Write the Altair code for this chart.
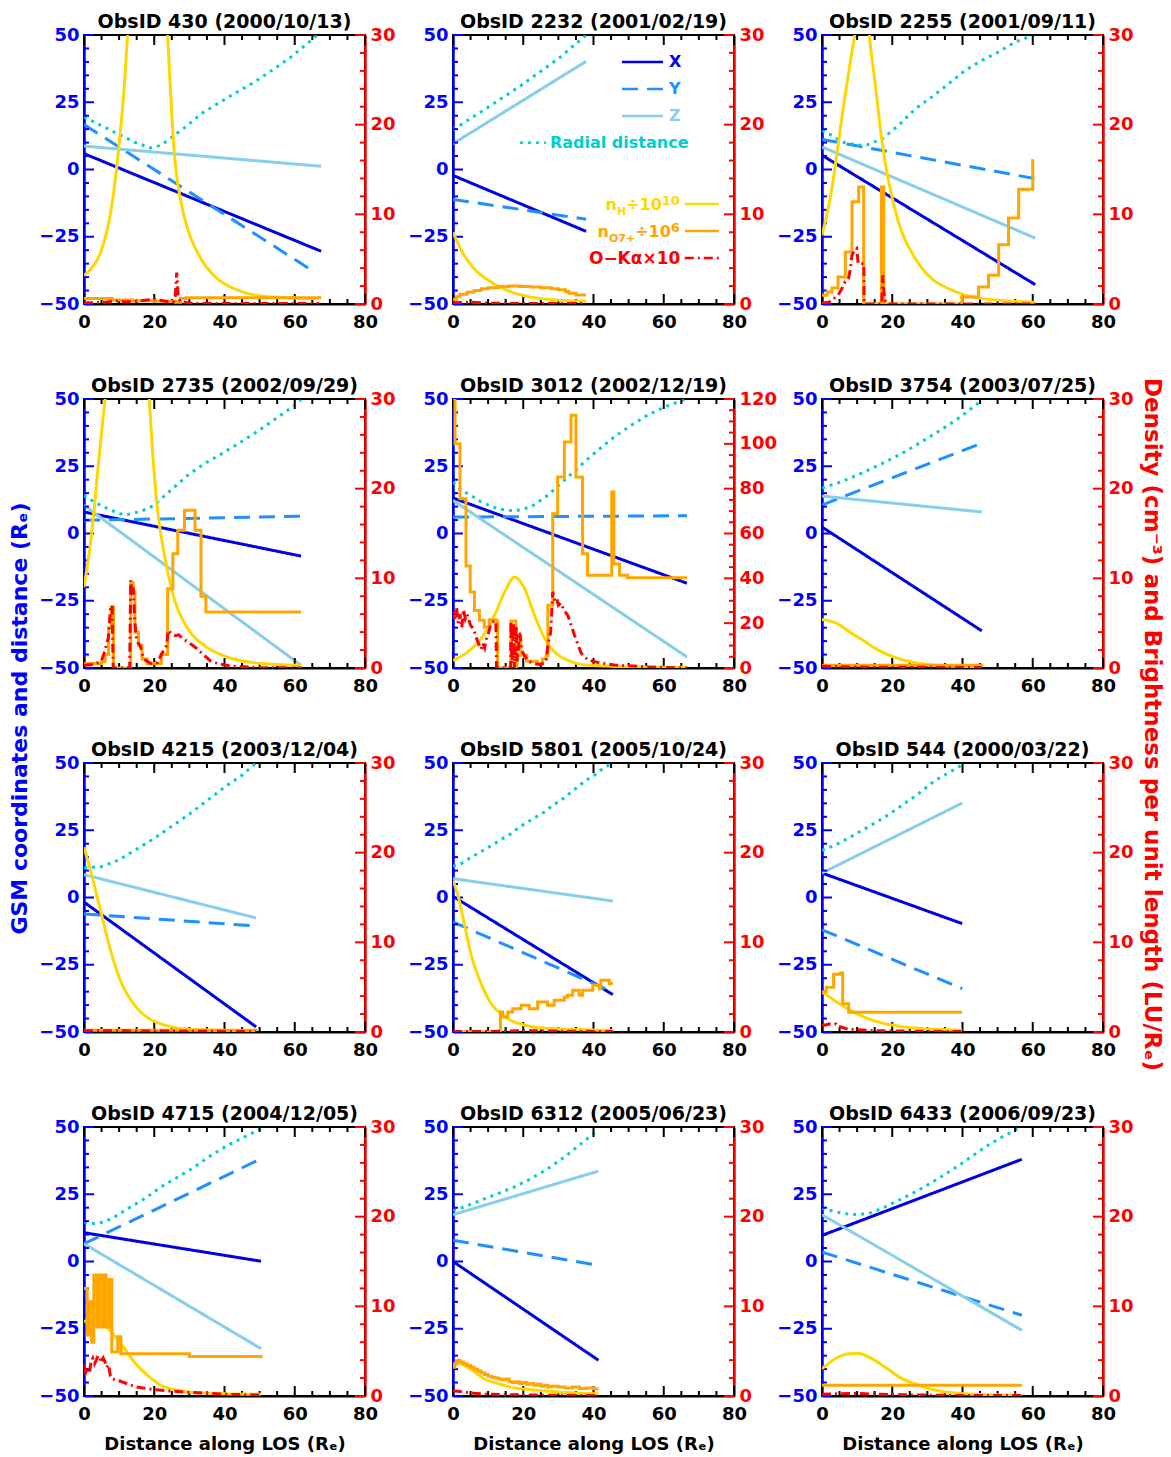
import altair as alt
import pandas as pd

FONT = "DejaVu Sans"
W, H = 281, 269

# ---------------- tick values / labels ----------------
X_MAJOR = [0, 20, 40, 60, 80]
X_MINOR = [5, 10, 15, 25, 30, 35, 45, 50, 55, 65, 70, 75]
L_MAJOR = [-50, -25, 0, 25, 50]
L_MINOR = [-45, -40, -35, -30, -20, -15, -10, -5, 5, 10, 15, 20, 30, 35, 40, 45]
R_MAJOR_30 = [0, 10, 20, 30]
R_MINOR_30 = [2, 4, 6, 8, 12, 14, 16, 18, 22, 24, 26, 28]
R_MAJOR_120 = [0, 20, 40, 60, 80, 100, 120]
R_MINOR_120 = [5, 10, 15, 25, 30, 35, 45, 50, 55, 65, 70, 75, 85, 90, 95, 105, 110, 115]

X_TITLE = "Distance along LOS (Rₑ)"
LEFT_TITLE = "GSM coordinates and distance (Rₑ)"
RIGHT_TITLE = "Density (cm⁻³) and Brightness per unit length (LU/Rₑ)"

# ---------------- panel data (distance, value) ----------------
P430 = {
    "title": "ObsID 430 (2000/10/13)", "rmax": 30,
    "X": [(0, 5.9), (67.5, -30.4)],
    "Y": [(0, 16.7), (65.6, -38.1)],
    "Z": [(0, 8.7), (67.5, 1.2)],
    "R": [(0, 19.5), (4.8, 16.4), (9.6, 13.3), (14.3, 10.2), (19, 8), (21.9, 9), (25.7, 12.7), (29.5, 16.4),
          (33.3, 20.7), (38.1, 24.5), (42.8, 28.2), (48.5, 32.5), (54.2, 37.5), (58.9, 41.8), (66.5, 50)],
    "H": [(0, 3.2), (2, 3.9), (4.8, 5.8), (6.7, 8.4), (8.6, 12.9), (10, 17.8), (11.5, 24.4), (12.4, 30),
          (14, 42), (18, 55), (22, 42), (23.8, 30), (24.8, 22.5), (25.7, 16.9), (27.6, 11.4), (29.5, 8.4),
          (33.3, 5.05), (38, 2.8), (42.8, 1.7), (52.3, 0.8), (66.5, 0.6)],
    "O": [(0, 0.6), (8, 0.45), (14, 0.35), (20, 0.3), (26, 0.2), (27.5, 0.6), (29, 0.7), (67.5, 0.7)],
    "K": [(0, 0.1), (3, 0.15), (6, 0.2), (9, 0.35), (12, 0.25), (15, 0.3), (18, 0.45), (20, 0.55), (22, 0.4),
          (24, 0.25), (25.5, 0.3), (26, 0.9), (26.4, 3.5), (26.8, 1.0), (27.3, 0.3), (30, 0.1), (40, 0.05),
          (67, 0.05)],
}
P2232 = {
    "title": "ObsID 2232 (2001/02/19)", "rmax": 30,
    "X": [(0, -2.2), (37.9, -23)],
    "Y": [(0, -11.1), (37.9, -18.5)],
    "Z": [(0, 9.6), (37.9, 40.2)],
    "R": [(0, 14.8), (9.4, 22.6), (19.4, 31.3), (30, 41.2), (37.9, 50)],
    "H": [(0, 8.0), (3.2, 5.4), (6.1, 3.9), (10.8, 2.45), (15.6, 1.5), (25, 0.6), (37.9, 0.3)],
    "O": [(0, 0.5), (1, 0.8), (2, 1.1), (4, 1.3), (6, 1.5), (8, 1.7), (10, 1.8), (13, 1.95), (16, 2.0),
          (19, 1.95), (22, 1.9), (25, 1.8), (28, 1.7), (30, 1.6), (32, 1.4), (33, 1.2), (35, 1.0), (37.9, 1.0)],
    "K": [(0, 0.15), (5, 0.2), (10, 0.1), (20, 0.05), (37.9, 0.05)],
}
P2255 = {
    "title": "ObsID 2255 (2001/09/11)", "rmax": 30,
    "X": [(0, 5.3), (60.7, -42.8)],
    "Y": [(0, 11.2), (60.7, -3.4)],
    "Z": [(0, 8.4), (60.7, -25.5)],
    "R": [(0, 14.6), (2.8, 12.7), (5.7, 10.2), (10.4, 9.0), (13, 9.2), (17.1, 11.4), (21.8, 16.4), (26.6, 22.6),
          (31.3, 27), (36.1, 31.9), (40.8, 36.9), (45.6, 40.6), (50.3, 43.7), (55, 47.4), (60.3, 50)],
    "H": [(0, 7.66), (2.85, 12.9), (4.7, 18.1), (6.6, 23.3), (8.5, 28.1), (9.3, 30), (10.5, 36), (11.5, 37),
          (12.5, 35), (13.5, 30), (15.2, 24.4), (17.1, 18.1), (19, 13.6), (21.8, 9.1), (26.6, 5.05), (31.3, 2.8),
          (36.1, 1.7), (45.6, 0.6), (60.7, 0.2)],
    "O": [(0, 0.97), (1.42, 1.34), (2.85, 1.78), (4.56, 3.0), (6.64, 5.8), (8.54, 11.4), (10.44, 13.05),
          (11.86, 0), (16.9, 13.05), (17.6, 0), (39.8, 0.78), (44.6, 1.9), (47.4, 3.2), (50.3, 6.6), (53.1, 9.6),
          (56, 12.8), (60, 16.0), (60.3, 16.0)],
    "K": [(0, 0.1), (2, 0.2), (3, 0.5), (4.6, 1.0), (5.5, 1.6), (6.6, 2.5), (7.5, 2.8), (8.1, 3.9), (8.5, 5.4),
          (9.2, 6.0), (9.9, 6.2), (10.3, 4.5), (11.9, 4.5), (12.0, 0), (17.0, 0), (17.3, 3.2), (17.8, 0.5),
          (18.5, 0), (60.7, 0)],
}
P2735 = {
    "title": "ObsID 2735 (2002/09/29)", "rmax": 30,
    "X": [(0, 8.0), (61.8, -8.4)],
    "Y": [(0, 4.9), (61.8, 6.4)],
    "Z": [(0, 10.5), (61.8, -49.0)],
    "R": [(0, 14.2), (2.9, 11.7), (7.7, 8.6), (11.5, 6.8), (16.2, 8.2), (20, 10.5), (24.7, 16.1), (29.5, 21.6),
          (34.3, 26.0), (39, 29.5), (43.8, 33.3), (48.5, 37.2), (53.3, 41.5), (58, 45.8), (61.8, 49.5)],
    "H": [(0, 9.0), (2, 14.4), (3.9, 21.9), (5.3, 27.4), (6, 29.9), (8, 40), (12, 48), (16, 40), (18.6, 29.9),
          (19.6, 23.7), (21, 17.4), (22.9, 12.6), (25.7, 7.7), (29.5, 4.4), (34.3, 2.5), (40.9, 1.2),
          (50.4, 0.5), (61.8, 0.3)],
    "O": [(0, 0.5), (5, 0.7), (6, 1.5), (7, 4.5), (7.8, 6.8), (8.4, 0), (13.2, 0), (13.3, 9.5), (14, 8.5),
          (14.5, 4), (15.5, 2.5), (16.5, 1), (18, 0.5), (21, 0.5), (22, 1.5), (23.8, 8.85), (25.3, 12.75),
          (26.7, 15.35), (28.6, 17.6), (31.6, 15.35), (33.3, 8.0), (34.7, 6.25), (61.8, 6.25)],
    "K": [(0, 0.3), (3, 0.4), (5, 0.8), (6, 2.0), (7, 3.5), (7.5, 6.5), (8, 7.0), (8.3, 0), (13, 0), (13.3, 9.8),
          (13.7, 8.0), (14, 9.0), (14.5, 5), (15, 3), (16, 2.5), (17, 1), (19, 0.5), (21, 0.6), (22, 1.5),
          (23.5, 2.5), (24, 4.2), (25, 3.8), (26, 3.6), (27, 3.7), (28, 3.3), (30, 2.8), (32, 2.2), (34, 1.5),
          (36, 0.8), (38, 0.5), (42, 0.2), (50, 0.05), (62, 0)],
}
P3012 = {
    "title": "ObsID 3012 (2002/12/19)", "rmax": 120,
    "X": [(0, 13.2), (66.6, -18.5)],
    "Y": [(0, 6.1), (66.6, 6.6)],
    "Z": [(0, 12.3), (66.6, -45.9)],
    "R": [(0, 19.1), (2.3, 16.1), (5.1, 14.2), (8, 11.7), (12.7, 9.2), (17.5, 8.3), (22.2, 9.9), (27, 14.2),
          (31.7, 19.8), (36.4, 25.4), (41.2, 30.9), (45.9, 35.9), (50.7, 40.2), (55.4, 44), (60.2, 47),
          (66.3, 50)],
    "H": [(0, 3.4), (4.2, 7.1), (8, 13.1), (11.8, 23.5), (14.7, 33.9), (17.5, 40.6), (20.4, 35.4), (23.2, 23.5),
          (26.1, 13.1), (28.9, 7.1), (32.7, 3.4), (38.4, 1.2), (45.9, 0.7), (66.6, 0.3)],
    "O": [(0, 120), (0.57, 100), (2.0, 75.5), (3.7, 45.5), (4.9, 33.9), (6.1, 25.7), (7.5, 21.3), (8.9, 18.3),
          (10.3, 21.5), (12.2, 21.0), (12.7, 0), (16.5, 21), (17.9, 0), (18.2, 14), (19.3, 5.7), (21, 3),
          (24, 2), (25.5, 4), (26.5, 5.5), (27.0, 28), (28.4, 68.8), (29.8, 85.2), (31.7, 100.8), (33.6, 112.7),
          (35.0, 85.2), (36.9, 51.0), (38.3, 41.4), (45.0, 41.4), (45.2, 78.5), (45.8, 46.4), (47.4, 41.4),
          (49.7, 40.3), (66.6, 40.3)],
    "K": [(0, 25), (0.5, 22), (1, 27), (1.5, 20), (2, 24), (2.5, 18), (3, 26), (3.5, 22), (4, 24), (5, 19),
          (6, 17), (6.5, 14), (7, 12), (7.5, 10), (8, 8.4), (8.5, 11), (9, 9), (9.5, 13), (10, 15), (10.5, 18),
          (11, 20.5), (12.2, 21), (12.4, 0), (16.4, 0), (16.5, 21), (16.8, 2), (17.2, 20), (17.5, 0), (18, 19),
          (18.3, 3), (19, 16), (19.5, 8), (20.5, 5), (21.5, 3), (23, 2), (25, 1.5), (26.5, 3), (27, 10),
          (27.8, 16), (28.4, 34), (29, 30), (29.5, 31), (30, 28), (30.7, 29), (31.5, 26), (32.7, 23.4),
          (34.6, 14.6), (36.5, 6.6), (38.4, 3.6), (41.2, 2.5), (45.9, 1.3), (55, 0.5), (60, 0.3), (66.6, 0)],
}
P3754 = {
    "title": "ObsID 3754 (2003/07/25)", "rmax": 30,
    "X": [(0, 2.4), (45.5, -36.2)],
    "Y": [(0, 10.6), (45.5, 33.6)],
    "Z": [(0, 13.9), (45.5, 8.0)],
    "R": [(0, 16.9), (5.7, 19.3), (11.4, 22.5), (17.1, 26.0), (22.8, 29.8), (28.5, 34.2), (34.2, 38.8),
          (39.9, 43.8), (45.5, 49.5)],
    "H": [(0, 5.4), (4, 5.0), (8, 4.0), (12, 3.0), (16, 2.0), (20, 1.3), (25, 0.7), (30, 0.4), (45.5, 0.1)],
    "O": [(0, 0.3), (45.5, 0.2)],
    "K": [(0, 0.2), (10, 0.1), (45.5, 0.05)],
}
P4215 = {
    "title": "ObsID 4215 (2003/12/04)", "rmax": 30,
    "X": [(0, -1.7), (49, -48.1)],
    "Y": [(0, -6.1), (49, -10.6)],
    "Z": [(0, 8.5), (49, -7.6)],
    "R": [(0, 11), (5, 11.5), (10, 14), (15, 18), (20, 22), (25, 26.5), (30, 31), (35, 36), (40, 41),
          (45, 45.5), (49, 50)],
    "H": [(0, 20.6), (2, 17.8), (4.8, 13.4), (7.7, 8.9), (10.5, 5.6), (14.8, 2.8), (20.5, 1.1), (30, 0.3),
          (49, 0.1)],
    "O": [(0, 0.2), (49, 0.15)],
    "K": [(0, 0.15), (49, 0.05)],
}
P5801 = {
    "title": "ObsID 5801 (2005/10/24)", "rmax": 30,
    "X": [(0, 0.4), (45.5, -36.1)],
    "Y": [(0, -9.1), (45.5, -35.1)],
    "Z": [(0, 7), (45.5, -1.3)],
    "R": [(0, 11.6), (2.3, 12.6), (4.5, 14.4), (6.9, 16.3), (9.4, 18.1), (11.8, 20.0), (14.1, 21.9), (16.5, 23.7),
          (18.9, 26.2), (21.3, 28.1), (23.6, 29.9), (26.0, 31.8), (28.4, 34.3), (30.7, 36.1), (33.1, 38.6),
          (35.5, 41.1), (37.9, 43.6), (40.2, 45.4), (42.6, 47.9), (45, 49.7)],
    "H": [(0, 16.9), (1.3, 15.4), (3.2, 12.1), (5.1, 8.7), (8, 5.4), (10.8, 3.2), (14.7, 1.7), (20.5, 0.75),
          (27, 0.4), (45.5, 0.2)],
    "O": [(0, 0), (13.5, 2.23), (14.1, 1.67), (15.6, 2.23), (17.0, 2.6), (19.4, 2.97), (21.7, 2.6),
          (24.1, 3.35), (26.9, 2.97), (28.8, 3.53), (31.7, 3.9), (32.6, 4.1), (34.1, 4.65), (35.9, 4.1),
          (36.9, 4.65), (39.8, 5.2), (41.7, 4.83), (42.1, 5.76), (44.5, 5.4), (45.5, 5.4)],
    "K": [(0, 0.05), (10, 0.05), (14, 0.1), (20, 0.15), (30, 0.1), (45.5, 0.05)],
}
P544 = {
    "title": "ObsID 544 (2000/03/22)", "rmax": 30,
    "X": [(0, 9.1), (39.9, -9.7)],
    "Y": [(0, -12.0), (39.9, -33.9)],
    "Z": [(0, 9.1), (39.9, 35.1)],
    "R": [(0, 17.5), (3.6, 19.4), (8.1, 22.5), (13.1, 26.2), (17.9, 29.9), (22.8, 34.3), (27.5, 38.6),
          (32.3, 43.6), (38.9, 48.5), (39.9, 49.5)],
    "H": [(0, 4.46), (3.6, 3.5), (8.1, 2.4), (13.1, 1.5), (17.9, 0.93), (22.8, 0.6), (32.3, 0.3), (39.9, 0.2)],
    "O": [(0, 4.46), (1.2, 5.0), (3.3, 6.43), (5.2, 6.58), (5.9, 3.16), (7.6, 2.2), (39.9, 2.2)],
    "K": [(0, 0.85), (1, 0.75), (2, 0.9), (3, 0.8), (4, 0.9), (4.5, 0.6), (5.5, 0.55), (7, 0.35), (10, 0.25),
          (15, 0.15), (25, 0.1), (39.9, 0.05)],
}
P4715 = {
    "title": "ObsID 4715 (2004/12/05)", "rmax": 30,
    "X": [(0, 10.7), (50.4, 0.1)],
    "Y": [(0, 6.6), (50.4, 38.2)],
    "Z": [(0, 6.6), (50.4, -32.4)],
    "R": [(0, 14.7), (2.9, 14.1), (5.8, 14.7), (8.6, 16.5), (12.4, 19.6), (17.2, 23.3), (21.9, 27.7),
          (26.7, 31.4), (31.4, 35.1), (36.2, 39.5), (40.9, 43.2), (45.7, 46.3), (50.4, 49.4)],
    "H": [(0, 8.25), (1.9, 8.6), (3, 8.7), (5.8, 7.9), (8.6, 6.8), (11.5, 5.3), (14.3, 3.8), (18.1, 2.3),
          (21.9, 1.2), (26.7, 0.64), (31.4, 0.38), (40, 0.25), (50.4, 0.2)],
    "O": [(0, 12.0), (0.9, 6.8), (1.5, 10.5), (2.2, 6.0), (2.8, 13.5), (3.7, 7.7), (4.4, 13.5), (5.3, 7.7),
          (5.8, 13.5), (6.3, 7.7), (7.2, 13.0), (7.9, 4.9), (9.6, 6.6), (10.5, 4.7), (30, 4.4), (50.4, 4.2)],
    "K": [(0, 3.5), (0.5, 2.6), (1, 3.0), (1.5, 2.5), (2, 3.8), (2.5, 4.2), (3, 3.6), (3.5, 4.0), (4, 4.5),
          (4.5, 4.3), (5, 3.7), (5.5, 4.2), (6, 3.8), (6.5, 3.2), (7, 3.5), (7.5, 2.2), (8, 1.9), (10, 1.7),
          (12, 1.4), (15, 1.0), (20, 0.7), (30, 0.4), (40, 0.2), (50, 0.1)],
}
P6312 = {
    "title": "ObsID 6312 (2005/06/23)", "rmax": 30,
    "X": [(0, 0), (41.4, -36.7)],
    "Y": [(0, 7.9), (41.4, -1.4)],
    "Z": [(0, 17.4), (41.4, 33.6)],
    "R": [(0, 19), (3.2, 20.3), (8, 22.8), (12.7, 25.2), (17.5, 27.7), (22.2, 30.8), (27, 34.5), (31.7, 38.8),
          (36.5, 43.8), (41.2, 48.8)],
    "H": [(0, 3.4), (1.3, 3.7), (3.2, 3.4), (6.1, 2.7), (8.9, 1.9), (12.7, 1.4), (17.5, 0.9), (22.2, 0.7),
          (31.7, 0.4), (41.4, 0.25)],
    "O": [(0, 3.2), (0.5, 3.6), (1, 3.9), (1.5, 4.0), (2, 3.8), (3, 3.6), (4, 3.4), (5, 3.2), (6, 3.0),
          (7, 2.8), (8, 2.6), (9, 2.4), (10, 2.2), (11, 2.1), (12, 2.0), (13, 1.9), (14, 1.8), (15, 1.9),
          (16, 1.6), (17, 1.5), (18, 1.6), (19, 1.4), (20, 1.5), (21, 1.3), (22, 1.4), (23, 1.2), (24, 1.3),
          (25, 1.1), (26, 1.2), (27, 1.0), (28, 1.1), (30, 1.0), (32, 0.9), (34, 1.0), (36, 0.85), (38, 0.9),
          (40, 0.8), (41.4, 0.8)],
    "K": [(0, 0.6), (2, 0.5), (4, 0.4), (6, 0.3), (10, 0.2), (15, 0.15), (25, 0.1), (41.4, 0.05)],
}
P6433 = {
    "title": "ObsID 6433 (2006/09/23)", "rmax": 30,
    "X": [(0, 9.7), (56.9, 38.0)],
    "Y": [(0, 3.5), (56.9, -20)],
    "Z": [(0, 17.4), (56.9, -25.6)],
    "R": [(0, 19.9), (3.8, 18.4), (8.5, 17.4), (13.3, 17.8), (18, 20.3), (22.8, 23.4), (27.5, 26.5),
          (32.3, 30.2), (37, 34.0), (41.8, 38.3), (46.5, 42.6), (51.3, 46.3), (56.5, 50)],
    "H": [(0, 3.05), (3.8, 4.16), (7.6, 4.7), (10.4, 4.75), (14.2, 4.16), (18, 3.2), (22.8, 1.93), (27.5, 1.19),
          (32.3, 0.64), (37, 0.37), (41.8, 0.22), (56.9, 0.08)],
    "O": [(0, 1.19), (56.9, 1.19)],
    "K": [(0, 0.2), (5, 0.25), (10, 0.3), (15, 0.2), (20, 0.15), (30, 0.1), (40, 0.05), (56.9, 0.05)],
}

GRID = [[P430, P2232, P2255], [P2735, P3012, P3754], [P4215, P5801, P544], [P4715, P6312, P6433]]

# legend (drawn inside panel ObsID 2232, in its data units)
LEGEND_LINES = [("X", 48.1, 59.8, 40.0), ("Y", 48.1, 59.8, 29.9), ("Z", 48.1, 59.8, 19.9),
                ("R", 19.1, 26.5, 9.9), ("H", 66.0, 75.7, -12.8), ("O", 66.0, 75.7, -22.9),
                ("K", 66.0, 75.7, -32.9)]
LEGEND_UPPER = [("X", 61.5, 40.0, "X"), ("Y", 61.5, 29.9, "Y"), ("Z", 61.5, 19.9, "Z"),
                ("R", 27.6, 9.9, "Radial distance")]
LEGEND_LOWER_ANCHOR = 64.6
LEGEND_LOWER = [("H", -12.8, ["n", "H", "÷10", "10"]),
                ("O", -22.9, ["n", "O7+", "÷10", "6"]),
                ("K", -32.9, ["O−Kα×10"])]

# ---------------- styles ----------------
C = {"X": "#0000E6", "Y": "#1E90FF", "Z": "#87CEEB", "R": "#00CED1",
     "H": "#FFD700", "O": "#FFA500", "K": "#FF0000"}
DASH = {"X": [1, 0], "Y": [16, 9], "Z": [1, 0], "R": [3, 5], "H": [1, 0], "O": [1, 0], "K": [9, 4, 2, 4]}
AX_BLUE = "#0000FF"
AX_RED = "#FF0000"
EM = {"n": .712, "H": .837, "O": .850, "7": .696, "+": .838, "÷": .838, "1": .696, "0": .696, "6": .696,
      "−": .838, "K": .775, "α": .659, "×": .838}
PIECE_STYLE = [(16, 6), (11, 11), (16, 6), (13, 1)]  # (font size, dy) for main/sub/main/sup


def tw(s, size):
    return sum(EM.get(ch, 0.65) for ch in s) * size


def series_df(p, keys):
    rows = []
    for k in keys:
        for d, v in p[k]:
            rows.append({"d": d, "v": v, "s": k})
    return pd.DataFrame(rows)


def panel(p, row, col):
    xs = alt.Scale(domain=[0, 80], nice=False, zero=False)
    ls = alt.Scale(domain=[-50, 50], nice=False, zero=False)
    rmax = p["rmax"]
    rs = alt.Scale(domain=[0, rmax], nice=False, zero=False)
    rmaj = R_MAJOR_120 if rmax == 120 else R_MAJOR_30
    rmin = R_MINOR_120 if rmax == 120 else R_MINOR_30

    lab = dict(labelFont=FONT, labelFontSize=18, labelFontWeight="bold", labelOverlap=False,
               labelFlush=False, ticks=False, grid=False)

    xa = dict(values=X_MAJOR, domainColor="black", domainWidth=2, labelColor="black", labelPadding=9, **lab)
    if row == 3:
        xa.update(title=X_TITLE, titleFont=FONT, titleFontSize=18, titleFontWeight="bold",
                  titleColor="black", titlePadding=12)
    else:
        xa.update(title=None)
    XA = alt.Axis(**xa)

    la = dict(orient="left", values=L_MAJOR, domainColor=AX_BLUE, domainWidth=2.5, labelColor=AX_BLUE,
              labelPadding=5, **lab)
    if row == 1 and col == 0:
        la.update(title=LEFT_TITLE, titleColor=AX_BLUE, titleFont=FONT, titleFontSize=22,
                  titleFontWeight="bold", titleAngle=270, titleAlign="center", titleBaseline="middle",
                  titleX=-65, titleY=319)
    else:
        la.update(title=None)
    LA = alt.Axis(**la)

    title_offset = -21
    ra = dict(orient="right", values=rmaj, domainColor=AX_RED, domainWidth=2.5, labelColor=AX_RED,
              labelPadding=5, **lab)
    if row == 1 and col == 2:
        ra.update(title=RIGHT_TITLE, titleColor=AX_RED, titleFont=FONT, titleFontSize=23,
                  titleFontWeight="bold", titleAngle=90, titleAlign="center", titleBaseline="middle",
                  titleX=48, titleY=325)
        title_offset = -34
    else:
        ra.update(title=None)
    RA = alt.Axis(**ra)

    def X(field="d"):
        return alt.X(field + ":Q", scale=xs, axis=XA)

    def YL(field="v"):
        return alt.Y(field + ":Q", scale=ls, axis=LA)

    def YR(field="v"):
        return alt.Y(field + ":Q", scale=rs, axis=RA)

    def hrule(vals, yenc, x0, x1, color):
        return alt.Chart(pd.DataFrame({"v": vals})).mark_rule(color=color, strokeWidth=2).encode(
            y=yenc, x=alt.value(x0), x2=alt.value(x1))

    def vrule(vals, y0, y1):
        return alt.Chart(pd.DataFrame({"d": vals})).mark_rule(color="black", strokeWidth=2).encode(
            x=X(), y=alt.value(y0), y2=alt.value(y1))

    keys = ["X", "Y", "Z", "R"]
    left_lines = alt.Chart(series_df(p, keys)).mark_line(strokeWidth=3, clip=True).encode(
        x=X(), y=YL(),
        color=alt.Color("s:N", scale=alt.Scale(domain=keys, range=[C[k] for k in keys]), legend=None),
        strokeDash=alt.StrokeDash("s:N", scale=alt.Scale(domain=keys, range=[DASH[k] for k in keys]),
                                  legend=None),
    )
    left_layers = [left_lines,
                   hrule(L_MAJOR, YL(), 0, 10, AX_BLUE), hrule(L_MINOR, YL(), 0, 5, AX_BLUE),
                   vrule(X_MAJOR, 0, 10), vrule(X_MINOR, 0, 5),
                   vrule(X_MAJOR, H, H - 10), vrule(X_MINOR, H, H - 5)]

    if row == 0 and col == 1:
        for s, d0, d1, v in LEGEND_LINES:
            df = pd.DataFrame({"d": [d0, d1], "v": [v, v]})
            left_layers.append(alt.Chart(df).mark_line(color=C[s], strokeDash=DASH[s], strokeWidth=2.5).encode(
                x=X(), y=YL()))
        for s, d, v, txt in LEGEND_UPPER:
            df = pd.DataFrame({"d": [d], "v": [v], "txt": [txt]})
            left_layers.append(alt.Chart(df).mark_text(font=FONT, fontSize=16, fontWeight="bold", color=C[s],
                                                       align="left", baseline="middle").encode(
                x=X(), y=YL(), text="txt:N"))
        for s, v, pieces in LEGEND_LOWER:
            styles = PIECE_STYLE if len(pieces) > 1 else [(17, 6)]
            widths = [tw(t, st[0]) for t, st in zip(pieces, styles)]
            off = -sum(widths)
            for t, st, wdt in zip(pieces, styles, widths):
                df = pd.DataFrame({"d": [LEGEND_LOWER_ANCHOR], "v": [v], "txt": [t]})
                left_layers.append(alt.Chart(df).mark_text(
                    font=FONT, fontSize=st[0], fontWeight="bold", color=C[s], align="left",
                    baseline="alphabetic", dx=off, dy=st[1]).encode(x=X(), y=YL(), text="txt:N"))
                off += wdt

    left_group = alt.layer(*left_layers)

    def rdf(k):
        return pd.DataFrame({"d": [a for a, b in p[k]], "v": [b for a, b in p[k]]})

    h_line = alt.Chart(rdf("H")).mark_line(color=C["H"], strokeWidth=3, interpolate="monotone",
                                           clip=True).encode(x=X(), y=YR())
    o_line = alt.Chart(rdf("O")).mark_line(color=C["O"], strokeWidth=3, interpolate="step-after",
                                           clip=True).encode(x=X(), y=YR())
    k_line = alt.Chart(rdf("K")).mark_line(color=C["K"], strokeWidth=3, strokeDash=DASH["K"],
                                           clip=True).encode(x=X(), y=YR())
    right_group = alt.layer(h_line, o_line, k_line,
                            hrule(rmaj, YR(), W, W - 10, AX_RED), hrule(rmin, YR(), W, W - 5, AX_RED))

    return alt.layer(left_group, right_group).resolve_scale(y="independent").properties(
        width=W, height=H,
        title=alt.TitleParams(text=p["title"], font=FONT, fontSize=19, fontWeight="bold", color="black",
                              anchor="middle", offset=title_offset, baseline="alphabetic", frame="group"))


panels = [panel(p, r, c) for r, prow in enumerate(GRID) for c, p in enumerate(prow)]

chart = alt.concat(*panels, columns=3, spacing={"row": 95, "column": 88}, bounds="flush").configure_view(
    stroke="black", strokeWidth=2).properties(
    padding={"left": 7, "top": 12, "right": 8, "bottom": 5}, background="white")

chart.save("out.html", embed_options={"renderer": "svg", "actions": False})
